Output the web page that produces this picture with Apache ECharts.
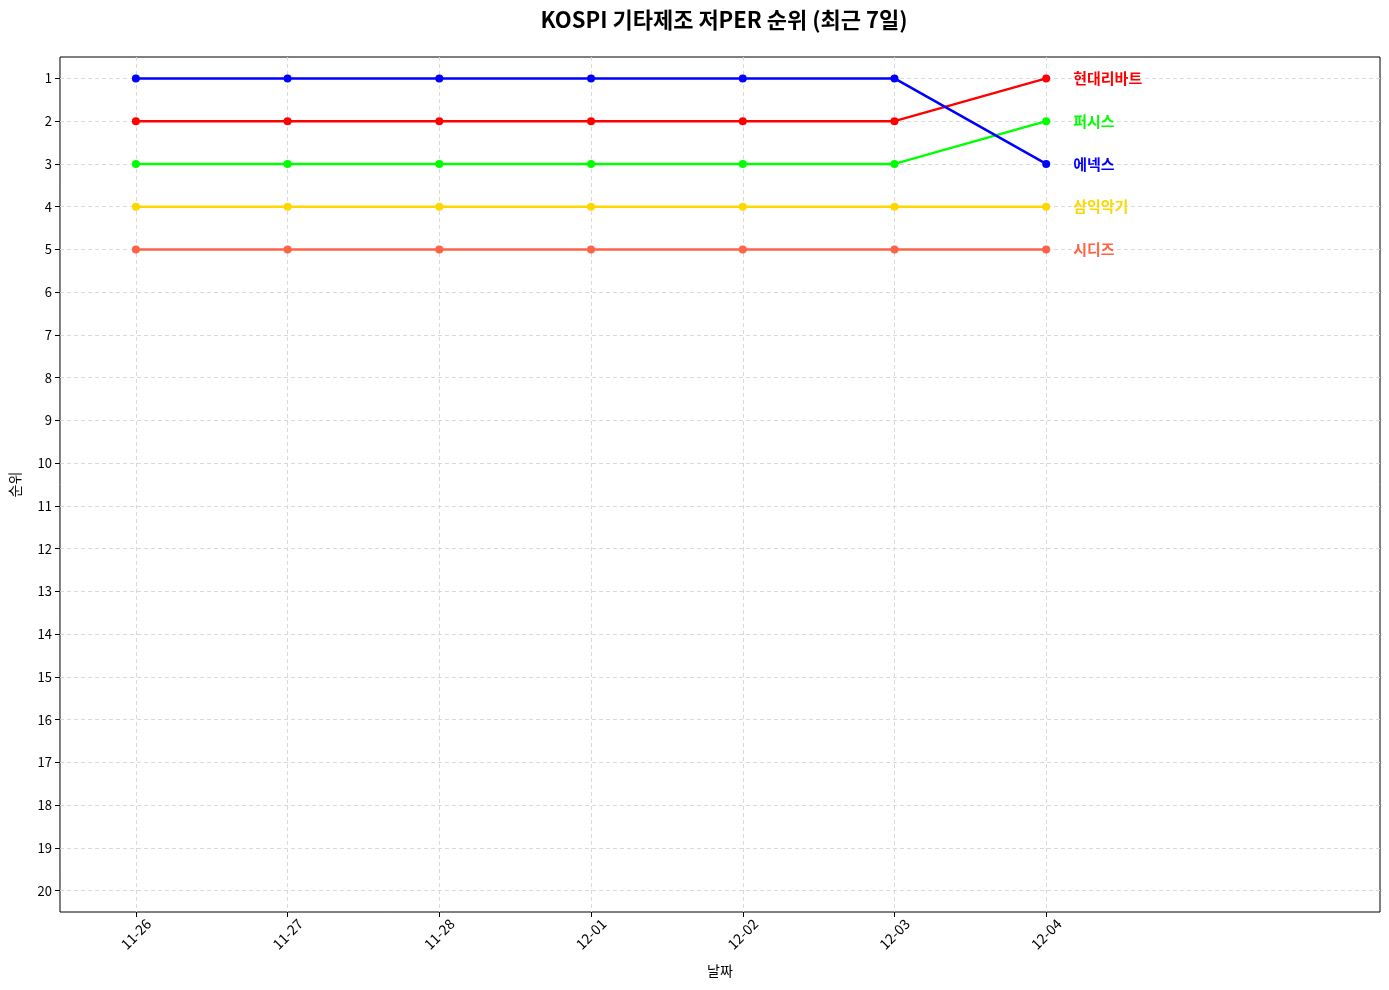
<!DOCTYPE html>
<html>
<head>
<meta charset="utf-8">
<script src="https://cdn.jsdelivr.net/npm/echarts@6/dist/echarts.min.js"></script>
<style>
  html, body { margin: 0; padding: 0; background: #fff; }
  #chart { width: 1389px; height: 990px; }
</style>
</head>
<body>
<div id="chart"></div>
<script>
// 날짜 (x축 카테고리)
const dates = ['11-26', '11-27', '11-28', '12-01', '12-02', '12-03', '12-04']
// 종목별 순위
const hyundaiLivart = [2, 2, 2, 2, 2, 2, 1]
const fursys = [3, 3, 3, 3, 3, 3, 2]
const enex = [1, 1, 1, 1, 1, 1, 3]
const samickMusical = [4, 4, 4, 4, 4, 4, 4]
const sidiz = [5, 5, 5, 5, 5, 5, 5]
const rankTicks = [1, 2, 3, 4, 5, 6, 7, 8, 9, 10, 11, 12, 13, 14, 15, 16, 17, 18, 19, 20]

const seriesDefs = [
  { name: '현대리바트', data: hyundaiLivart, color: '#ff0000' },
  { name: '퍼시스', data: fursys, color: '#00ff00' },
  { name: '에넥스', data: enex, color: '#0000ff' },
  { name: '삼익악기', data: samickMusical, color: '#ffd700' },
  { name: '시디즈', data: sidiz, color: '#ff6347' }
]

const font = '"Noto Sans CJK KR", "Noto Sans", sans-serif'
const dateIdx = dates.map((d, i) => i)

const chart = echarts.init(document.getElementById('chart'))

chart.setOption({
  animation: false,
  textStyle: { fontFamily: font },
  title: {
    text: 'KOSPI 기타제조 저PER 순위 (최근 7일)',
    left: 719,
    textAlign: 'center',
    top: 4,
    textStyle: { fontSize: 22, fontWeight: 'bold', color: '#000', fontFamily: font }
  },
  grid: {
    left: 59,
    right: 9,
    top: 57,
    bottom: 78,
    show: true,
    borderColor: '#000',
    borderWidth: 1,
    containLabel: false
  },
  xAxis: {
    type: 'value',
    min: -0.5,
    max: 8.2,
    name: '날짜',
    nameLocation: 'middle',
    nameGap: 52,
    nameTextStyle: { fontSize: 14, color: '#000' },
    axisLine: { show: false, onZero: false },
    axisTick: { show: true, length: 5, lineStyle: { color: '#000' }, customValues: dateIdx },
    axisLabel: {
      customValues: dateIdx,
      rotate: 45,
      align: 'center',
      verticalAlign: 'middle',
      fontSize: 14,
      color: '#000',
      margin: 22,
      formatter: v => dates[Math.round(v)] || ''
    },
    splitLine: { show: true, lineStyle: { color: '#d9d9d9', type: [4, 3] } }
  },
  yAxis: {
    type: 'value',
    inverse: true,
    min: 0.5,
    max: 20.5,
    name: '순위',
    nameLocation: 'middle',
    nameGap: 38,
    nameTextStyle: { fontSize: 14, color: '#000' },
    axisLine: { show: false, onZero: false },
    axisTick: { show: true, length: 5, lineStyle: { color: '#000' }, customValues: rankTicks },
    axisLabel: { customValues: rankTicks, fontSize: 13, color: '#000', margin: 8 },
    splitLine: { show: true, lineStyle: { color: '#d9d9d9', type: [4, 3] } }
  },
  series: seriesDefs.map(s => ({
    name: s.name,
    type: 'line',
    data: s.data.map((v, i) => [i, v]),
    symbol: 'circle',
    symbolSize: 8,
    itemStyle: { color: s.color },
    lineStyle: { color: s.color, width: 2.5 },
    endLabel: {
      show: true,
      formatter: '{a}',
      distance: 27,
      color: s.color,
      fontSize: 15,
      fontWeight: 'bold',
      fontFamily: font
    }
  }))
})
</script>
</body>
</html>
